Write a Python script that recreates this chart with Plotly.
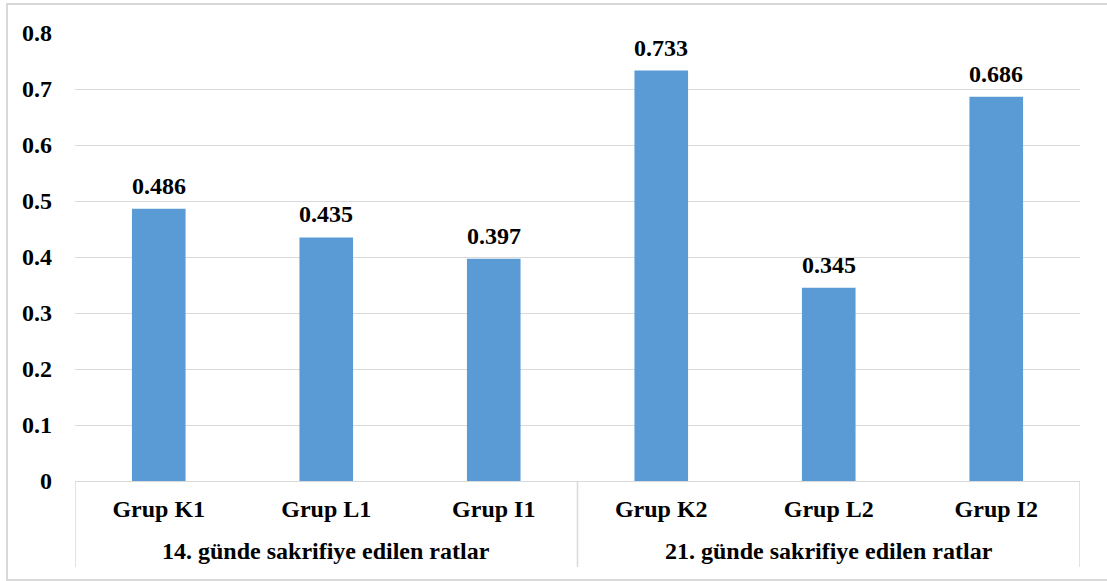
import plotly.graph_objects as go

# Sacrifice-day groups and the rat groups within each
day_labels = ["14. günde sakrifiye edilen ratlar", "21. günde sakrifiye edilen ratlar"]
groups = ["Grup K1", "Grup L1", "Grup I1", "Grup K2", "Grup L2", "Grup I2"]
values = [0.486, 0.435, 0.397, 0.733, 0.345, 0.686]
y_ticks = [0, 0.1, 0.2, 0.3, 0.4, 0.5, 0.6, 0.7, 0.8]
y_tick_text = ["0", "0.1", "0.2", "0.3", "0.4", "0.5", "0.6", "0.7", "0.8"]

FONT = "Liberation Serif, Times New Roman, serif"
SIZE = 24
GRID = "#d9d9d9"

W, H = 1107, 581
ML, MR, MT, MB = 75, 27, 33, 100
PW, PH = W - ML - MR, H - MT - MB


def px_to_paper_y(py):
    return (H - MB - py) / PH


def px_to_paper_x(px):
    return (px - ML) / PW


x_pos = list(range(len(groups)))

fig = go.Figure(
    go.Bar(
        x=x_pos,
        y=values,
        marker=dict(color="#5b9bd5", line=dict(width=0)),
        width=0.32,
        hoverinfo="skip",
    )
)

# Value labels above each bar
for xi, v in zip(x_pos, values):
    fig.add_annotation(
        x=xi, y=v, xref="x", yref="y",
        text=f"{v:.3f}", showarrow=False,
        yanchor="bottom", yshift=8,
        font=dict(family=FONT, size=SIZE, color="black", weight="bold"),
    )

fig.update_layout(
    width=W,
    height=H,
    margin=dict(l=ML, r=MR, t=MT, b=MB, autoexpand=False),
    plot_bgcolor="white",
    paper_bgcolor="white",
    font=dict(family=FONT, size=SIZE, color="black"),
    showlegend=False,
)

fig.update_yaxes(
    range=[0, 0.8],
    tickvals=y_ticks,
    ticktext=y_tick_text,
    showgrid=True,
    gridcolor=GRID,
    gridwidth=1,
    zeroline=False,
    showline=False,
    ticks="",
    ticklabelstandoff=22,
    automargin=False,
    tickfont=dict(family=FONT, size=SIZE, color="black", weight="bold"),
)

fig.update_xaxes(
    range=[-0.5, len(groups) - 0.5],
    tickvals=x_pos,
    ticktext=groups,
    showline=True,
    linecolor=GRID,
    linewidth=1,
    showgrid=False,
    zeroline=False,
    ticks="",
    ticklabelstandoff=6,
    automargin=False,
    tickfont=dict(family=FONT, size=SIZE, color="black", weight="bold"),
)

# Group dividers below the axis
y_div_bottom = px_to_paper_y(567)
for xb in [-0.5, 2.5, 5.5]:
    fig.add_shape(
        type="line", xref="x", yref="paper",
        x0=xb, x1=xb, y0=0, y1=y_div_bottom,
        line=dict(color=GRID, width=1.5),
    )

# Outer category labels (sacrifice day)
for i, lab in enumerate(day_labels):
    fig.add_annotation(
        x=i * 3 + 1, y=px_to_paper_y(551), xref="x", yref="paper",
        text=lab, showarrow=False, yanchor="middle",
        font=dict(family=FONT, size=SIZE, color="black", weight="bold"),
    )

# Chart frame
fig.add_shape(
    type="rect", xref="paper", yref="paper",
    x0=px_to_paper_x(7), x1=px_to_paper_x(1115),
    y0=px_to_paper_y(580), y1=px_to_paper_y(4),
    line=dict(color=GRID, width=2), layer="below",
)

fig.write_html("out.html")
